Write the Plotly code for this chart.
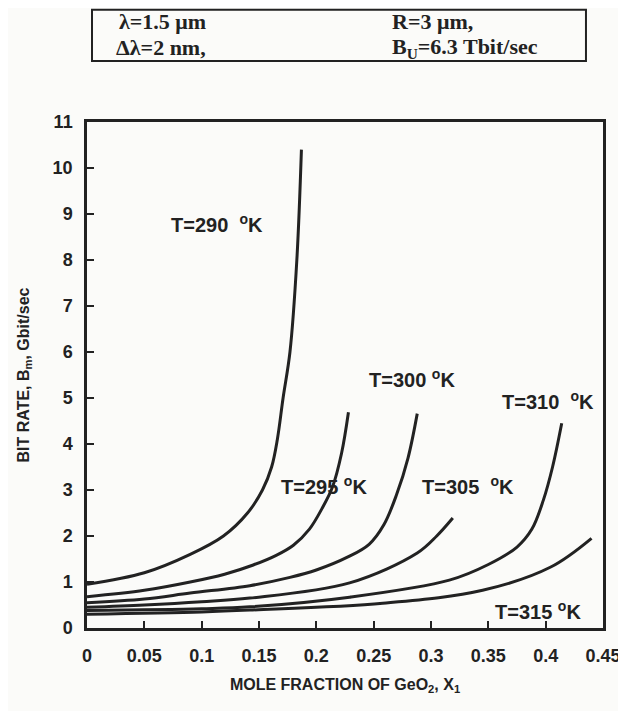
import plotly.graph_objects as go

# ---- data ----
x_290 = [0, 0.05, 0.09, 0.119, 0.14, 0.153, 0.161, 0.166, 0.171, 0.177, 0.183, 0.187]
y_290 = [0.95, 1.2, 1.6, 2.0, 2.5, 3.0, 3.5, 4.1, 5.0, 6.0, 8.0, 10.4]

x_295 = [0, 0.05, 0.09, 0.12, 0.145, 0.165, 0.18, 0.194, 0.205, 0.214, 0.222, 0.228]
y_295 = [0.68, 0.82, 1.0, 1.17, 1.37, 1.58, 1.8, 2.15, 2.6, 3.06, 3.8, 4.69]

x_300 = [0, 0.05, 0.09, 0.142, 0.177, 0.2, 0.228, 0.246, 0.259, 0.27, 0.28, 0.288]
y_300 = [0.55, 0.63, 0.76, 0.92, 1.1, 1.26, 1.55, 1.82, 2.25, 2.9, 3.7, 4.66]

x_305 = [0, 0.05, 0.1, 0.142, 0.229, 0.288, 0.305, 0.319]
y_305 = [0.45, 0.5, 0.57, 0.65, 0.98, 1.63, 2.0, 2.39]

x_310 = [0, 0.1, 0.142, 0.229, 0.316, 0.35, 0.375, 0.388, 0.398, 0.406, 0.414]
y_310 = [0.38, 0.42, 0.46, 0.67, 1.04, 1.38, 1.76, 2.15, 2.78, 3.5, 4.45]

x_315 = [0, 0.1, 0.142, 0.258, 0.345, 0.404, 0.44]
y_315 = [0.3, 0.35, 0.39, 0.54, 0.82, 1.32, 1.95]

curve_names = ["T=290  °K", "T=295 °K", "T=300 °K", "T=305  °K", "T=310  °K", "T=315 °K"]
label_x = [0.113, 0.207, 0.283, 0.332, 0.402, 0.393]
label_y = [8.8, 3.1, 5.42, 3.1, 4.95, 0.39]

x_ticks = [0, 0.05, 0.1, 0.15, 0.2, 0.25, 0.3, 0.35, 0.4, 0.45]
x_tick_text = ["0", "0.05", "0.1", "0.15", "0.2", "0.25", "0.3", "0.35", "0.4", "0.45"]
y_ticks = list(range(0, 12))

xs = [x_290, x_295, x_300, x_305, x_310, x_315]
ys = [y_290, y_295, y_300, y_305, y_310, y_315]

INK = "#222222"
fig = go.Figure()
for xv, yv, nm in zip(xs, ys, curve_names):
    fig.add_trace(go.Scatter(x=xv, y=yv, mode="lines", name=nm,
                             line=dict(color=INK, width=3, shape="spline", smoothing=1.0),
                             showlegend=False))

lab_font = dict(family="Liberation Sans, Arial", size=20, color=INK)
for nm, lx, ly in zip(curve_names, label_x, label_y):
    fig.add_annotation(x=lx, y=ly, text="<b>" + nm.replace("°K", "<sup>o</sup>K") + "</b>",
                       showarrow=False, font=lab_font, xanchor="center", yanchor="middle")

axis_common = dict(showline=True, linecolor=INK, linewidth=2.5, mirror=True,
                   ticks="inside", ticklen=7, tickwidth=2, tickcolor=INK,
                   showgrid=False, zeroline=False, automargin=False,
                   tickfont=dict(family="Liberation Sans, Arial", size=18, color=INK))

fig.update_xaxes(range=[0, 0.45], tickvals=x_ticks, ticktext=["<b>%s</b>" % t for t in x_tick_text],
                 ticklabelstandoff=10,
                 title=dict(text="<b>MOLE FRACTION OF GeO<sub>2</sub>, X<sub>1</sub></b>",
                            font=dict(family="Liberation Sans, Arial", size=16, color=INK),
                            standoff=14),
                 **axis_common)
fig.update_yaxes(range=[0, 11], tickvals=y_ticks, ticktext=["<b>%d</b>" % v for v in y_ticks],
                 ticklabelstandoff=8,
                 title=dict(text="<b>BIT RATE, B<sub>m</sub>, Gbit/sec</b>",
                            font=dict(family="Liberation Sans, Arial", size=16, color=INK),
                            standoff=20),
                 **axis_common)

# parameter box at the top
fig.add_shape(type="rect", xref="paper", yref="paper", x0=0.0097, x1=0.967, y0=1.1205, y1=1.222,
              line=dict(color=INK, width=2), fillcolor="rgba(0,0,0,0)")
box_font = dict(family="Liberation Serif, Times New Roman", size=22, color=INK)
box_texts = [("λ=1.5 μm", 0.058, 1.198), ("Δλ=2 nm,", 0.052, 1.147),
             ("R=3 μm,", 0.587, 1.198), ("B<sub>U</sub>=6.3 Tbit/sec", 0.588, 1.147)]
for t, bx, by in box_texts:
    fig.add_annotation(xref="paper", yref="paper", x=bx, y=by, text="<b>" + t + "</b>",
                       showarrow=False, font=box_font, xanchor="left", yanchor="middle")

# the page body adds an 8 px offset, so the figure is 8 px smaller and margins shifted
fig.update_layout(width=618, height=703,
                  margin=dict(l=79, r=23, t=114, b=83),
                  paper_bgcolor="#fbfbf9", plot_bgcolor="#fbfbf9")

fig.write_html("out.html")
